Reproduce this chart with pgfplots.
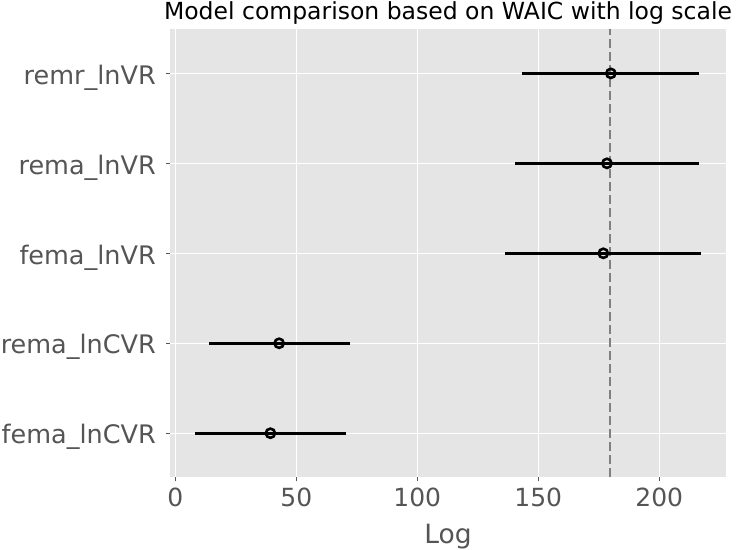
\documentclass[border=0pt]{standalone}
\usepackage{fontspec}
\setmainfont{DejaVu Sans}
\usepackage{pgfplots}
\pgfplotsset{compat=1.18}
\definecolor{bgc}{HTML}{E5E5E5}
\definecolor{tickc}{HTML}{555555}
\definecolor{refc}{HTML}{808080}
\begin{document}
\begin{tikzpicture}
\begin{axis}[
  at={(0,0)}, anchor=south west,
  scale only axis,
  width=556pt, height=448pt,
  xmin=-2.2, xmax=227.6,
  ymin=-0.49, ymax=4.49,
  axis background/.style={fill=bgc},
  axis line style={draw=none},
  grid=major,
  major grid style={white, line width=1.2pt},
  tick pos=left,
  tick align=outside,
  major tick length=4pt,
  tick style={color=tickc, line width=0.9pt},
  xtick={0,50,100,150,200},
  ytick={0,1,2,3,4},
  yticklabels={fema\_lnCVR, rema\_lnCVR, fema\_lnVR, rema\_lnVR, remr\_lnVR},
  /pgf/number format/assume math mode=true,
  xticklabel style={font=\fontsize{25}{30}\selectfont, text=tickc, anchor=north, inner sep=0pt, yshift=-6pt},
  yticklabel style={font=\fontsize{25.5}{30}\selectfont, text=tickc, anchor=base east, inner sep=0pt, xshift=-10pt, yshift=-10.7pt},
  xlabel={Log},
  xlabel style={at={(axis description cs:0.5,0)}, anchor=base, yshift=-66pt, font=\fontsize{26.5}{30}\selectfont, text=tickc, inner sep=0pt},
  title={Model comparison based on WAIC with log scale},
  every axis title shift=0pt,
  title style={at={(axis description cs:0.5,1)}, anchor=base, yshift=10pt, font=\fontsize{23.5}{28}\selectfont, text=black, inner sep=0pt},
  clip=false,
]
\addplot[refc, line width=2.2pt, dash pattern=on 9pt off 4pt] coordinates {(179.6,-0.49) (179.6,4.49)};
\addplot[only marks, black, mark=o, mark size=4.6pt, mark options={line width=2.6pt, black, fill=none},
  error bars/.cd, x dir=both, x explicit, error mark=none, error bar style={line width=2.8pt, black}]
  coordinates {
  (180.0,4) += (36.5,0) -= (36.9,0)
  (178.4,3) += (38.1,0) -= (38.0,0)
  (176.9,2) += (40.2,0) -= (40.7,0)
  (42.9,1) += (29.2,0) -= (29.0,0)
  (39.3,0) += (31.2,0) -= (31.3,0)
  };
\end{axis}
\pgfresetboundingbox
\path (-170pt,-71.7pt) rectangle (568pt,477.3pt);
\end{tikzpicture}
\end{document}
